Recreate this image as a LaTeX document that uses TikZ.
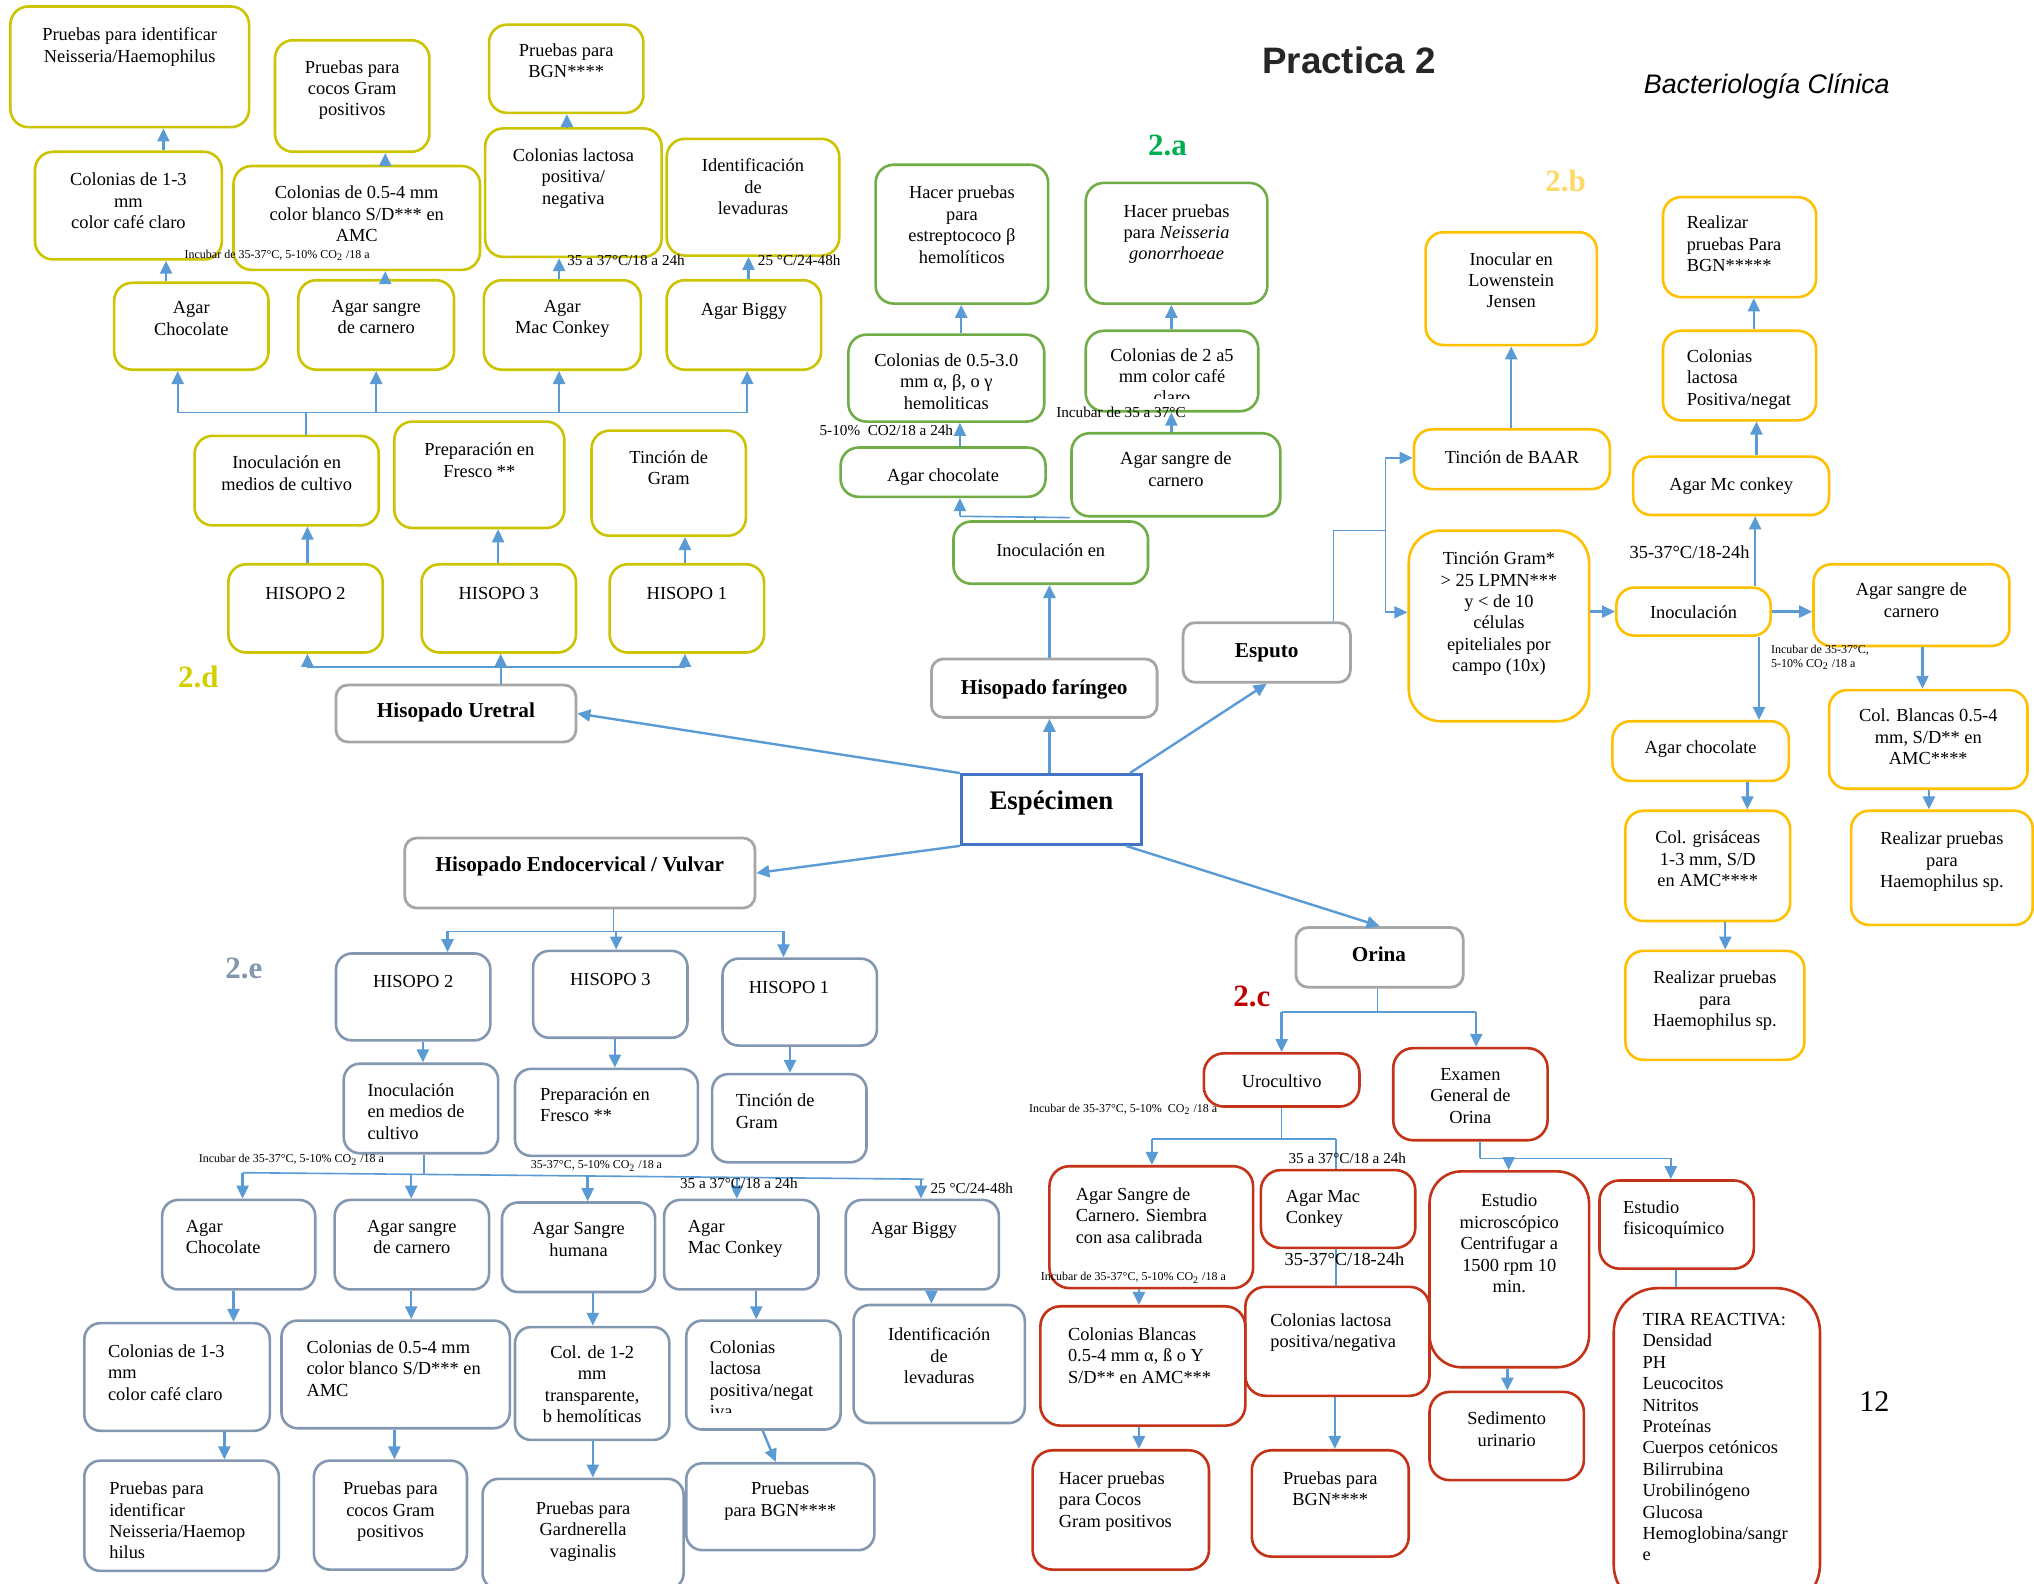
\documentclass[tikz,border=0pt]{standalone}
\usepackage{fontspec}
\setmainfont{Liberation Serif}
\newfontfamily\headfont{Liberation Sans}
\usetikzlibrary{fit,arrows.meta}

\definecolor{ylw}{RGB}{204,196,0}
\definecolor{ylwlab}{RGB}{210,206,0}
\definecolor{grn}{RGB}{112,173,71}
\definecolor{grnlab}{RGB}{0,176,80}
\definecolor{org}{RGB}{255,192,0}
\definecolor{orglab}{RGB}{255,217,102}
\definecolor{rd}{RGB}{196,50,24}
\definecolor{rdlab}{RGB}{192,0,0}
\definecolor{slate}{RGB}{132,151,176}
\definecolor{gry}{RGB}{166,166,166}
\definecolor{blu}{RGB}{68,114,196}
\definecolor{arrc}{RGB}{91,155,213}
\definecolor{ttl}{RGB}{38,38,38}

% box with centred text: name, style, x1, y1, x2, y2, top of text, text
\newcommand\cbx[8]{%
  \node[#2, fit={(#3,#4) (#5,#6)}] (#1) {};
  \node[txt, align=center, anchor=north] (#1t) at ({(#3+#5)/2},#7) {#8};}
% box with left-aligned text: name, style, x1, y1, x2, y2, text left, top of text, text
\newcommand\lbx[9]{%
  \node[#2, fit={(#3,#4) (#5,#6)}] (#1) {};
  \node[txt, align=left, anchor=north west] (#1t) at (#7,#8) {#9};}

\begin{document}
\begin{tikzpicture}[x=0.6486pt,y=-0.6486pt,
  txt/.style={font=\fontsize{9.2}{10.7}\selectfont, inner sep=0pt, yshift=-1.4pt, execute at begin node=\strut},
  box/.style={fill=white, inner sep=0pt, line width=1.3pt},
  ybox/.style={box, draw=ylw, rounded corners=9pt},
  gbox/.style={box, draw=grn, rounded corners=9pt},
  obox/.style={box, draw=org, rounded corners=9pt},
  rbox/.style={box, draw=rd, rounded corners=10pt},
  sbox/.style={box, draw=slate, rounded corners=8pt},
  spbox/.style={box, draw=gry, line width=1.4pt, rounded corners=6pt},
  arr/.style={draw=arrc, line width=1.2pt, -{Triangle[width=6pt,length=6.5pt]}},
  bus/.style={draw=arrc, line width=0.8pt},
  tiny/.style={font=\fontsize{6}{7}\selectfont, inner sep=0pt, anchor=west},
  note/.style={font=\fontsize{7.6}{9}\selectfont, inner sep=0pt, anchor=west},
  notebig/.style={font=\fontsize{9.2}{10.7}\selectfont, inner sep=0pt, anchor=west},
  spec/.style={font=\bfseries\fontsize{10.6}{12}\selectfont, inner sep=0pt, anchor=base},
  sect/.style={font=\bfseries\fontsize{15.5}{18}\selectfont, inner sep=0pt, anchor=base},
]
\useasboundingbox (0,0) rectangle (1568,1221);
\fill[white] (0,0) rectangle (1568,1221);

% headings
\node[font=\headfont\bfseries\fontsize{18.4}{22}\selectfont, text=ttl, anchor=base, inner sep=0pt] (title) at (1040,57) {Practica 2};
\node[font=\headfont\itshape\fontsize{13.4}{16}\selectfont, anchor=base, inner sep=0pt] (subj) at (1362,72) {Bacteriología Clínica};
\node[font=\fontsize{15}{18}\selectfont, anchor=base, inner sep=0pt] (pg) at (1445,1088) {12};

% section labels
\node[sect, text=ylwlab] (s2d) at (153,530) {2.d};
\node[sect, text=grnlab] (s2a) at (900,120) {2.a};
\node[sect, text=orglab] (s2b) at (1207,148) {2.b};
\node[sect, text=rdlab] (s2c) at (965,776) {2.c};
\node[sect, text=slate] (s2e) at (188,754) {2.e};

% ---------- specimens ----------
\node[box, draw=blu, line width=1.4pt, fit={(741,597) (880,651)}] (sp) {};
\node[font=\bfseries\fontsize{13.4}{15}\selectfont, anchor=base, inner sep=0pt] (spt) at (810.5,624) {Espécimen};
\node[spbox, fit={(259,528) (444,572)}] (hu) {};
\node[spec] (hut) at (351.5,553) {Hisopado Uretral};
\node[spbox, fit={(718,508) (892,553)}] (hf) {};
\node[spec] (hft) at (805,535) {Hisopado faríngeo};
\node[spbox, fit={(912,480) (1041,526)}] (es) {};
\node[spec] (est) at (976.5,507) {Esputo};
\node[spbox, fit={(312,646) (582,700)}] (he) {};
\node[spec] (het) at (447,672) {Hisopado Endocervical / Vulvar};
\node[spbox, fit={(999,715) (1128,761)}] (or) {};
\node[spec] (ort) at (1063,741) {Orina};

\draw[arr] (sp.north west) -- (hu.east);
\draw[arr] (sp.north -| 809,0) -- (hf.south -| 809,0);
\draw[arr] (sp.north -| 871,0) -- (es.south);
\draw[arr] (sp.south west) -- (he.east);
\draw[arr] (sp.south -| 868,0) -- (or.north);

% ---------- 2.d  Hisopado uretral ----------
\cbx{a1}{ybox}{8}{5}{192}{98}{19}{Pruebas para identificar\\Neisseria/Haemophilus}
\cbx{a2}{ybox}{212}{31}{331}{117}{44}{Pruebas para\\cocos Gram\\positivos}
\cbx{a3}{ybox}{377}{19}{496}{87}{31}{Pruebas para\\BGN****}
\cbx{b1}{ybox}{27}{117}{171}{200}{131}{Colonias de 1-3\\mm\\color café claro}
\cbx{b2}{ybox}{180}{128}{370}{208}{141}{Colonias de 0.5-4 mm\\color blanco S/D*** en\\AMC}
\cbx{b3}{ybox}{374}{99}{510}{198}{112}{Colonias lactosa\\positiva/\\negativa}
\cbx{b4}{ybox}{514}{107}{647}{197}{120}{Identificación\\de\\levaduras}
\cbx{c1}{ybox}{88}{218}{207}{285}{230}{Agar\\Chocolate}
\cbx{c2}{ybox}{230}{216}{350}{285}{229}{Agar sangre\\de carnero}
\cbx{c3}{ybox}{373}{216}{494}{285}{229}{Agar\\Mac Conkey}
\cbx{c4}{ybox}{514}{216}{633}{285}{229}{Agar Biggy}
\cbx{d1}{ybox}{150}{336}{292}{405}{349}{Inoculación en\\medios de cultivo}
\cbx{d2}{ybox}{304}{325}{435}{407}{339}{Preparación en\\Fresco **}
\cbx{d3}{ybox}{456}{332}{575}{413}{345}{Tinción de\\Gram}
\cbx{e1}{ybox}{176}{435}{295}{503}{448}{HISOPO 2}
\cbx{e2}{ybox}{325}{435}{444}{503}{448}{HISOPO 3}
\cbx{e3}{ybox}{470}{435}{589}{503}{448}{HISOPO 1}

\draw[bus] (d1.north -| 236,0) -- (236,318);
\draw[bus] (137,318) -- (576,318);
\foreach \n/\x in {c1/137,c2/290,c3/431,c4/576}
  \draw[arr] (\x,318) -- (\n.south -| \x,0);
\draw[arr] (c1.north -| 128,0) -- (b1.south -| 128,0);
\draw[arr] (b1.north -| 126,0) -- (a1.south -| 126,0);
\draw[arr] (c2.north -| 297,0) -- (b2.south -| 297,0);
\draw[arr] (b2.north -| 297,0) -- (a2.south -| 297,0);
\draw[arr] (c3.north -| 431,0) -- (b3.south -| 431,0);
\draw[arr] (b3.north -| 437,0) -- (a3.south -| 437,0);
\draw[arr] (c4.north -| 577,0) -- (b4.south -| 577,0);
\draw[arr] (e1.north -| 237,0) -- (d1.south -| 237,0);
\draw[arr] (e2.north -| 384,0) -- (d2.south -| 384,0);
\draw[arr] (e3.north -| 528,0) -- (d3.south -| 528,0);
\draw[bus] (hu.north -| 386,0) -- (386,514);
\draw[bus] (237,514) -- (528,514);
\foreach \n/\x in {e1/237,e2/386,e3/528}
  \draw[arr] (\x,514) -- (\n.south -| \x,0);

\node[tiny] (l1) at (142,197) {Incubar de 35-37°C, 5-10\% CO\textsubscript{2} /18 a};
\node[note] (l2) at (437,201) {35 a 37°C/18 a 24h};
\node[note] (l3) at (584,201) {25 °C/24-48h};

% ---------- 2.a  Hisopado faringeo ----------
\cbx{ga}{gbox}{735}{402}{885}{450}{415}{Inoculación en}
\cbx{gb}{gbox}{648}{345}{806}{383}{357}{Agar chocolate}
\cbx{gc}{gbox}{826}{334}{987}{398}{346}{Agar sangre de\\carnero}
\node[gbox, fit={(654,258) (805,325)}] (gd) {};
\begin{scope}
  \clip (654,258) rectangle (805,315);
  \node[txt, align=center, anchor=north] (gdt) at (729.5,270) {Colonias de 0.5-3.0\\mm α, β, o γ\\hemoliticas};
\end{scope}
\node[gbox, fit={(837,255) (970,317)}] (ge) {};
\begin{scope}
  \clip (837,255) rectangle (970,307);
  \node[txt, align=center, anchor=north] (get) at (903.5,266) {Colonias de 2 a5\\mm color café\\claro};
\end{scope}
\cbx{gf}{gbox}{675}{127}{808}{234}{141}{Hacer pruebas\\para\\estreptococo β\\hemolíticos}
\cbx{gg}{gbox}{837}{141}{977}{234}{155}{Hacer pruebas\\para \textit{Neisseria}\\\textit{gonorrhoeae}}

\draw[arr] (hf.north -| 809,0) -- (ga.south -| 809,0);
\draw[bus] (ga.north -| 798,0) -- (798,398);
\draw[bus] (740,398) -- (gc.south west);
\draw[arr] (740,398) -- (gb.south -| 740,0);
\draw[arr] (gb.north -| 740,0) -- (gd.south -| 740,0);
\draw[arr] (gd.north -| 741,0) -- (gf.south -| 741,0);
\draw[arr] (gc.north -| 903,0) -- (ge.south -| 903,0);
\draw[arr] (ge.north -| 903,0) -- (gg.south -| 903,0);
\node[note, anchor=east] (l4) at (735,332) {5-10\%~ CO2/18 a 24h};
\node[note] (l5) at (814,318) {Incubar de 35 a 37°C};

% ---------- 2.b  Esputo ----------
\cbx{ba}{obox}{1090}{331}{1241}{377}{343}{Tinción de BAAR}
\cbx{bb}{obox}{1099}{179}{1231}{266}{192}{Inocular en\\Lowenstein\\Jensen}
\cbx{bc}{obox, rounded corners=16pt}{1086}{409}{1225}{556}{423}{Tinción Gram*\\> 25 LPMN***\\y < de 10\\células\\epiteliales por\\campo (10x)}
\cbx{bd}{obox}{1246}{453}{1365}{490}{463}{Inoculación}
\cbx{be}{obox}{1398}{435}{1549}{498}{447}{Agar sangre de\\carnero}
\cbx{bf}{obox}{1259}{352}{1410}{397}{364}{Agar Mc conkey}
\lbx{bg}{obox}{1282}{255}{1400}{324}{1300}{267}{Colonias\\lactosa\\Positiva/negat}
\lbx{bh}{obox}{1282}{152}{1400}{229}{1300}{164}{Realizar\\pruebas Para\\BGN*****}
\cbx{bi}{obox}{1243}{556}{1379}{602}{567}{Agar chocolate}
\cbx{bj}{obox}{1253}{625}{1380}{710}{638}{Col. grisáceas\\1-3 mm, S/D\\en AMC****}
\cbx{bk}{obox}{1253}{733}{1391}{817}{746}{Realizar pruebas\\para\\Haemophilus sp.}
\cbx{bl}{obox}{1410}{532}{1563}{608}{544}{Col. Blancas 0.5-4\\mm, S/D** en\\AMC****}
\cbx{bm}{obox}{1427}{625}{1567}{713}{639}{Realizar pruebas\\para\\Haemophilus sp.}

\coordinate (bj1) at (1068,409);
\coordinate (bj2) at (1068,353);
\coordinate (bj3) at (1068,472);
\draw[bus] (es.north -| 1028,0) |- (bj1);
\draw[bus] (bj2) -- (bj3);
\draw[arr, line width=0.8pt] (bj2) -- (ba.west |- bj2);
\draw[arr, line width=0.8pt] (bj3) -- (bc.west |- bj3);
\draw[arr] (ba.north -| 1165,0) -- (bb.south -| 1165,0);
\draw[arr] (bc.east |- bd.west) -- (bd.west);
\draw[arr] (bd.east) -- (bd.east -| be.west);
\draw[arr] (bd.north -| 1353,0) -- (bf.south -| 1353,0);
\draw[arr] (bf.north -| 1354,0) -- (bg.south -| 1354,0);
\draw[arr] (bg.north -| 1352,0) -- (bh.south -| 1352,0);
\draw[arr] (bd.south -| 1356,0) -- (bi.north -| 1356,0);
\draw[arr] (bi.south -| 1347,0) -- (bj.north -| 1347,0);
\draw[arr] (bj.south -| 1330,0) -- (bk.north -| 1330,0);
\draw[arr] (be.south -| 1482,0) -- (bl.north -| 1482,0);
\draw[arr] (bl.south -| 1487,0) -- (bm.north -| 1487,0);
\node[notebig] (l6) at (1256,426) {35-37°C/18-24h};
\node[tiny, align=left, anchor=north west] (l7) at (1365,497) {Incubar de 35-37°C,\\5-10\% CO\textsubscript{2} /18 a};

% ---------- 2.c  Orina ----------
\cbx{ca}{rbox}{928}{812}{1048}{853}{824}{Urocultivo}
\cbx{cb}{rbox}{1074}{808}{1193}{879}{821}{Examen\\General de\\Orina}
\lbx{cc}{rbox}{809}{899}{966}{993}{829}{913}{Agar Sangre de\\Carnero. Siembra\\con asa calibrada}
\lbx{cd}{rbox}{972}{902}{1091}{962}{991}{915}{Agar Mac\\Conkey}
\lbx{ce}{rbox}{960}{992}{1102}{1076}{979}{1010}{Colonias lactosa\\positiva/negativa}
\lbx{cf}{rbox}{802}{1007}{960}{1099}{823}{1021}{Colonias Blancas\\0.5-4 mm α, ß o Y\\S/D** en AMC***}
\lbx{cg}{rbox}{796}{1118}{932}{1210}{816}{1132}{Hacer pruebas\\para Cocos\\Gram positivos}
\cbx{ch}{rbox}{965}{1118}{1086}{1200}{1132}{Pruebas para\\BGN****}
\cbx{ci}{rbox, rounded corners=16pt}{1102}{903}{1225}{1054}{918}{Estudio\\microscópico\\Centrifugar a\\1500 rpm 10\\min.}
\cbx{cj}{rbox}{1102}{1073}{1221}{1141}{1086}{Sedimento\\urinario}
\lbx{ck}{rbox}{1233}{910}{1352}{978}{1251}{923}{Estudio\\fisicoquímico}
\lbx{cl}{rbox, rounded corners=22pt}{1244}{993}{1403}{1240}{1266}{1010}{TIRA REACTIVA:\\Densidad\\PH\\Leucocitos\\Nitritos\\Proteínas\\Cuerpos cetónicos\\Bilirrubina\\Urobilinógeno\\Glucosa\\Hemoglobina/sangr\\e}

\draw[bus] (or.south -| 1062,0) -- (1062,780);
\draw[bus] (988,780) -- (1138,780);
\draw[arr] (988,780) -- (ca.north -| 988,0);
\draw[arr] (1138,780) -- (cb.north -| 1138,0);
\draw[bus] (ca.south -| 988,0) -- (988,878);
\draw[bus] (888,878) -- (1030,878);
\draw[arr] (888,878) -- (cc.north -| 888,0);
\draw[bus, line width=1.2pt] (1030,878) -- (cd.north -| 1030,0);
\draw[bus, line width=1.2pt] (cd.south -| 1030,0) -- (ce.north -| 1030,0);
\draw[arr] (cc.south -| 878,0) -- (cf.north -| 878,0);
\draw[arr] (cf.south -| 878,0) -- (cg.north -| 878,0);
\draw[arr] (ce.south -| 1029,0) -- (ch.north -| 1029,0);
\draw[bus] (cb.south -| 1141,0) -- (1141,893);
\draw[bus] (1141,893) -- (1288,893);
\draw[arr] (1163,893) -- (ci.north -| 1163,0);
\draw[arr] (1288,893) -- (ck.north -| 1288,0);
\draw[arr] (ci.south -| 1162,0) -- (cj.north -| 1162,0);
\draw[bus, line width=1.2pt] (ck.south -| 1292,0) -- (cl.north -| 1292,0);
\node[tiny] (l8) at (793,855) {Incubar de 35-37°C, 5-10\%~ CO\textsubscript{2} /18 a};
\node[note] (l9) at (993,893) {35 a 37°C/18 a 24h};
\node[notebig] (l10) at (990,971) {35-37°C/18-24h};
\node[tiny] (l11) at (802,985) {Incubar de 35-37°C, 5-10\% CO\textsubscript{2} /18 a};

% ---------- 2.e  Hisopado endocervical / vulvar ----------
\cbx{ea}{sbox}{259}{735}{378}{802}{747}{HISOPO 2}
\cbx{eb}{sbox}{411}{733}{530}{800}{746}{HISOPO 3}
\lbx{ec}{sbox}{557}{739}{676}{806}{577}{752}{HISOPO 1}
\lbx{ed}{sbox}{265}{820}{384}{889}{283}{833}{Inoculación\\en medios de\\cultivo}
\lbx{ee}{sbox}{397}{824}{538}{891}{416}{836}{Preparación en\\Fresco **}
\lbx{ef}{sbox}{549}{828}{668}{896}{567}{841}{Tinción de\\Gram}
\lbx{eg}{sbox}{125}{925}{243}{994}{143}{938}{Agar\\Chocolate}
\cbx{eh}{sbox}{258}{925}{377}{994}{938}{Agar sangre\\de carnero}
\cbx{ei}{sbox}{387}{927}{505}{996}{940}{Agar Sangre\\humana}
\lbx{ej}{sbox}{512}{925}{631}{994}{530}{938}{Agar\\Mac Conkey}
\lbx{ek}{sbox}{652}{925}{770}{994}{671}{938}{Agar Biggy}
\lbx{el}{sbox}{65}{1020}{208}{1103}{83}{1034}{Colonias de 1-3\\mm\\color café claro}
\lbx{em}{sbox}{217}{1018}{393}{1101}{236}{1031}{Colonias de 0.5-4 mm\\color blanco S/D*** en\\AMC}
\cbx{en}{sbox}{397}{1023}{516}{1110}{1035}{Col. de 1-2\\mm\\transparente,\\b hemolíticas}
\node[sbox, fit={(529,1018) (648,1102)}] (eo) {};
\begin{scope}
  \clip (529,1018) rectangle (648,1089);
  \node[txt, align=left, anchor=north west] (eot) at (547,1031) {Colonias\\lactosa\\positiva/negat\\iva};
\end{scope}
\cbx{ep}{sbox}{658}{1006}{790}{1097}{1021}{Identificación\\de\\levaduras}
\lbx{eq}{sbox}{65}{1126}{215}{1211}{84}{1140}{Pruebas para\\identificar\\Neisseria/Haemop\\hilus}
\cbx{er}{sbox}{242}{1126}{360}{1210}{1140}{Pruebas para\\cocos Gram\\positivos}
\cbx{eu}{sbox}{372}{1140}{527}{1225}{1155}{Pruebas para\\Gardnerella\\vaginalis}
\cbx{et}{sbox}{529}{1128}{674}{1195}{1140}{Pruebas\\para BGN****}

\draw[bus] (he.south -| 473,0) -- (473,718);
\draw[bus] (345,718) -- (604,718);
\draw[arr] (345,718) -- (ea.north -| 345,0);
\draw[arr] (475,718) -- (eb.north -| 475,0);
\draw[arr] (604,718) -- (ec.north -| 604,0);
\draw[arr] (ea.south -| 326,0) -- (ed.north -| 326,0);
\draw[arr] (eb.south -| 474,0) -- (ee.north -| 474,0);
\draw[arr] (ec.south -| 609,0) -- (ef.north -| 609,0);
\coordinate (ebL) at (187,904);
\coordinate (ebR) at (712,909);
\draw[bus] (ed.south -| 327,0) -- (327,905);
\draw[bus] (ebL) -- (ebR);
\draw[arr] (ebL) -- (eg.north -| ebL);
\draw[arr] (317,905) -- (eh.north -| 317,0);
\draw[arr] (453,906) -- (ei.north -| 453,0);
\draw[arr] (568,908) -- (ej.north -| 568,0);
\draw[arr] (710,909) -- (ek.north -| 710,0);
\draw[arr] (eg.south -| 180,0) -- (el.north -| 180,0);
\draw[arr] (eh.south -| 317,0) -- (em.north -| 317,0);
\draw[arr] (ei.south -| 457,0) -- (en.north -| 457,0);
\draw[arr] (ej.south -| 583,0) -- (eo.north -| 583,0);
\draw[arr] (ek.south -| 718,0) -- (ep.north -| 718,0);
\draw[arr] (el.south -| 173,0) -- (eq.north -| 173,0);
\draw[arr] (em.south -| 304,0) -- (er.north -| 304,0);
\draw[arr] (en.south -| 457,0) -- (eu.north -| 457,0);
\draw[arr] (eo.south -| 588,0) -- (et.north -| 598,0);
\node[tiny] (l12) at (153,894) {Incubar de 35-37°C, 5-10\% CO\textsubscript{2} /18 a};
\node[tiny] (l13) at (409,899) {35-37°C, 5-10\% CO\textsubscript{2} /18 a};
\node[note] (l14) at (524,912) {35 a 37°C/18 a 24h};
\node[note] (l15) at (717,916) {25 °C/24-48h};
\end{tikzpicture}
\end{document}
